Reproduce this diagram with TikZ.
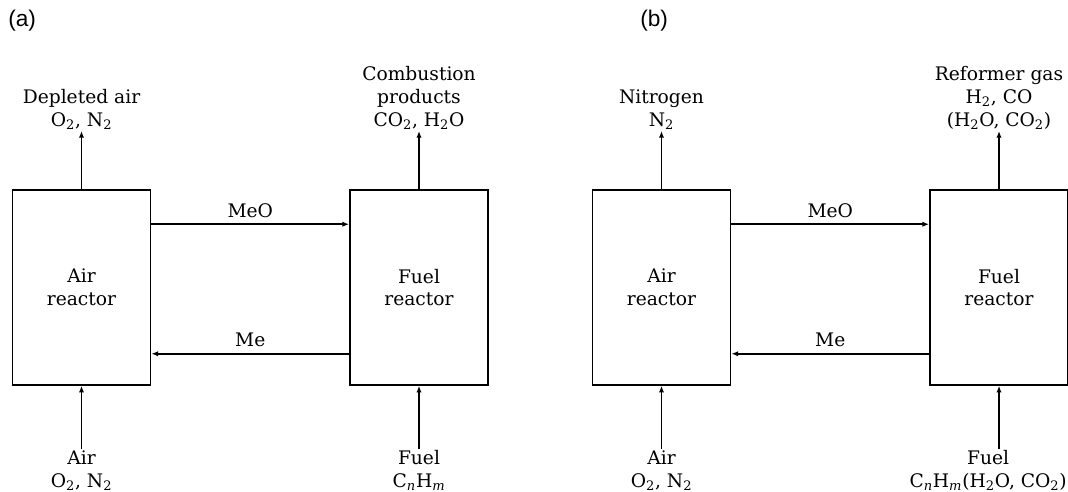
\documentclass[tikz,border=0pt]{standalone}
\usepackage{fontspec}
\setmainfont{DejaVu Serif}
\newfontfamily\tagfont{Liberation Sans}
\usetikzlibrary{arrows.meta,calc}

\begin{document}
\begin{tikzpicture}[
  x=0.75pt, y=-0.75pt,
  font=\fontsize{14}{17}\selectfont,
  reactor/.style={draw, line width=1.4pt, minimum width=103.5pt, minimum height=146pt,
                  align=center, inner sep=0pt},
  flow/.style={-{Latex[length=5pt,width=4pt]}, line width=1.4pt},
  stream/.style={align=center, inner sep=1pt},
  panel/.style={font=\tagfont\fontsize{17}{19}\selectfont, anchor=north west, inner sep=0pt},
]
\useasboundingbox (0,0) rectangle (1068,492);

% ---------------- (a) combustion ----------------
\node[panel] (tagA) at (8,10) {(a)};
\node[reactor] (airA)  at (81.5,287.5) {Air\\reactor};
\node[reactor] (fuelA) at (419,287.5)  {Fuel\\reactor};
\node[stream, anchor=south] (outAirA) at (81.5,131)
  {Depleted air\\O\textsubscript{2}, N\textsubscript{2}};
\node[stream, anchor=south] (outFuelA) at (419,131)
  {Combustion\\products\\CO\textsubscript{2}, H\textsubscript{2}O};
\node[stream, anchor=north] (inAirA) at (81.5,449)
  {Air\\O\textsubscript{2}, N\textsubscript{2}};
\node[stream, anchor=north] (inFuelA) at (419,449)
  {Fuel\\C\textsubscript{\textit{n}}H\textsubscript{\textit{m}}};
\draw[flow] (airA.north) -- (outAirA.south);
\draw[flow] (fuelA.north) -- (outFuelA.south);
\draw[flow] (inAirA.north) -- (airA.south);
\draw[flow] (inFuelA.north) -- (fuelA.south);
\draw[flow] ($(airA.north east)+(0,35)$) -- node[above=1pt] {MeO} ($(fuelA.north west)+(0,35)$);
\draw[flow] ($(fuelA.south west)+(0,-32)$) -- node[above=1pt] {Me} ($(airA.south east)+(0,-32)$);

% ---------------- (b) reforming ----------------
\node[panel] (tagB) at (640,10) {(b)};
\node[reactor] (airB)  at (661.5,287.5) {Air\\reactor};
\node[reactor] (fuelB) at (999,287.5)  {Fuel\\reactor};
\node[stream, anchor=south] (outAirB) at (661.5,131)
  {Nitrogen\\N\textsubscript{2}};
\node[stream, anchor=south] (outFuelB) at (999,131)
  {Reformer gas\\H\textsubscript{2}, CO\\(H\textsubscript{2}O, CO\textsubscript{2})};
\node[stream, anchor=north] (inAirB) at (661.5,449)
  {Air\\O\textsubscript{2}, N\textsubscript{2}};
\node[stream, anchor=north east, inner xsep=0pt] (inFuelB) at (1067,449)
  {Fuel\\C\textsubscript{\textit{n}}H\textsubscript{\textit{m}}(H\textsubscript{2}O, CO\textsubscript{2})};
\draw[flow] (airB.north) -- (outAirB.south);
\draw[flow] (fuelB.north) -- (outFuelB.south);
\draw[flow] (inAirB.north) -- (airB.south);
\draw[flow] (inFuelB.north -| fuelB.south) -- (fuelB.south);
\draw[flow] ($(airB.north east)+(0,35)$) -- node[above=1pt] {MeO} ($(fuelB.north west)+(0,35)$);
\draw[flow] ($(fuelB.south west)+(0,-32)$) -- node[above=1pt] {Me} ($(airB.south east)+(0,-32)$);

\end{tikzpicture}
\end{document}
